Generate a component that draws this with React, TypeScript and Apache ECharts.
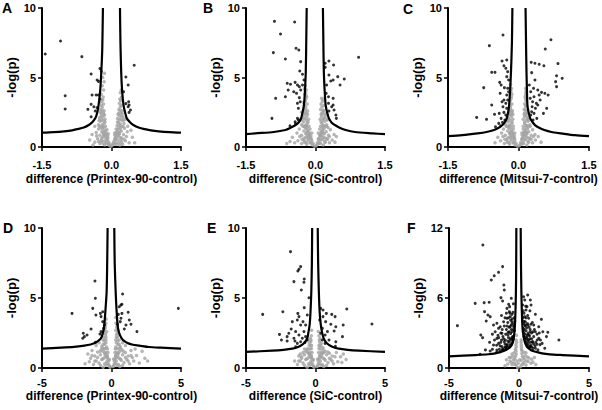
import React, { useEffect, useRef } from "react";
import * as echarts from "echarts";

// ---------- DATA ----------
const xTitles = [
  "difference (Printex-90-control)",
  "difference (SiC-control)",
  "difference (Mitsui-7-control)",
  "difference (Printex-90-control)",
  "difference (SiC-control)",
  "difference (Mitsui-7-control)",
];
const yTitle = "-log(p)";
const letters = ["A", "B", "C", "D", "E", "F"];

// Panel A
const grayA = [[-0.02,0.05],[0.01,0.1],[-0.04,0.2],[0.03,0.25],[-0.06,0.35],[0.05,0.4],[-0.09,0.5],[0.08,0.55],[-0.12,0.3],[0.11,0.2],[-0.15,0.15],[0.16,0.3],[-0.2,0.45],[0.2,0.5],[-0.25,0.25],[0.24,0.2],[-0.3,0.6],[0.3,0.45],[-0.36,0.35],[-0.4,0.15],[0.38,0.3],[0.45,0.7],[-0.08,0.8],[0.07,0.85],[-0.11,1.0],[0.1,1.05],[-0.14,1.2],[0.13,1.25],[-0.17,0.9],[0.17,0.95],[-0.21,1.1],[0.21,1.15],[-0.25,0.85],[0.26,0.9],[-0.28,1.3],[0.28,1.35],[-0.33,1.05],[0.34,1.1],[-0.13,1.5],[0.12,1.55],[-0.16,1.7],[0.15,1.75],[-0.2,1.6],[0.19,1.65],[-0.24,1.85],[0.23,1.9],[-0.28,1.6],[0.27,1.7],[-0.14,2.0],[0.13,2.05],[-0.18,2.2],[0.17,2.25],[-0.22,2.4],[0.21,2.45],[-0.26,2.1],[0.25,2.15],[-0.16,2.6],[0.16,2.7],[-0.2,2.85],[0.19,2.9],[-0.24,2.7],[0.23,2.6],[-0.17,3.1],[0.17,3.15],[-0.21,3.3],[0.2,3.35],[-0.25,3.2],[0.22,3.6],[-0.18,3.6],[-0.22,3.8],[0.19,3.9],[-0.17,4.1],[-0.2,4.4],[-0.16,4.7],[-0.19,5.0],[-0.15,5.3],[0.21,4.1],[0.3,2.0],[0.35,1.5],[-0.36,1.5],[0.42,1.2],[-0.42,0.9],[0.5,0.3],[-0.47,0.5],
  [-0.1,0.6],[-0.13,0.7],[-0.16,0.8],[-0.19,0.7],[-0.22,0.6],[-0.12,0.9],[-0.15,1.1],[-0.18,1.0],[-0.2,1.3],[-0.23,1.4],[-0.26,1.5],[-0.17,1.4],[-0.14,1.8],[-0.18,1.9],[-0.21,2.0],[-0.23,2.2],[-0.17,2.4],[-0.2,2.6],[-0.22,3.0],[-0.19,3.4],[-0.24,2.5],[-0.27,1.9],[-0.15,2.3],[-0.19,1.5],[-0.08,0.65],[-0.06,0.15],[-0.09,0.25],[-0.14,0.45],[-0.18,0.25],[-0.23,0.4],[-0.28,0.4],[-0.32,0.8],[-0.07,0.95],[-0.1,1.25],
  [0.09,0.65],[0.12,0.75],[0.15,0.85],[0.18,0.7],[0.22,0.65],[0.11,0.9],[0.14,1.1],[0.17,1.05],[0.19,1.3],[0.22,1.45],[0.25,1.5],[0.16,1.4],[0.13,1.8],[0.17,1.95],[0.2,2.05],[0.22,2.25],[0.16,2.45],[0.19,2.65],[0.21,3.0],[0.18,3.45],[0.23,2.4],[0.26,1.95],[0.14,2.35],[0.18,1.55],[0.07,0.6],[0.06,0.2],[0.09,0.3],[0.13,0.5],[0.18,0.15],[0.22,0.35],[0.27,0.55],[0.32,0.75],[0.07,1.0],[0.1,1.3]];
const blackA = [[-1.43,6.69],[-1.1,7.63],[-0.64,6.5],[-0.25,5.64],[-0.22,5.44],[-0.44,5.25],[-0.31,4.82],[-0.28,4.72],[-1.0,3.69],[-0.42,3.74],[-0.33,3.74],[-0.28,3.74],[-0.25,3.45],[-0.44,3.07],[-0.38,2.9],[-1.0,2.73],[-0.51,2.71],[-0.31,2.83],[-0.44,2.18],[-0.35,2.59],[0.49,5.88],[0.31,5.04],[0.36,4.46],[0.26,3.98],[0.37,3.26],[0.38,3.02],[0.36,2.9],[0.41,2.66],[0.38,2.49],[0.31,3.12]];
const curveAL = [[-1.5,1.03],[-1.25,1.07],[-1.02,1.13],[-0.85,1.2],[-0.71,1.3],[-0.6,1.4],[-0.49,1.58],[-0.41,1.8],[-0.35,2.06],[-0.31,2.45],[-0.28,3.0],[-0.245,4.0],[-0.22,5.4],[-0.2,7.0],[-0.185,10]];
const curveAR = [[0.183,10],[0.193,7.5],[0.21,5.3],[0.23,4.0],[0.26,3.0],[0.3,2.4],[0.33,2.06],[0.4,1.78],[0.48,1.56],[0.6,1.38],[0.69,1.3],[0.85,1.2],[1.02,1.13],[1.25,1.07],[1.5,1.03]];

// Panel B
const grayB = [[-0.02,0.05],[0.02,0.1],[-0.05,0.25],[0.04,0.3],[-0.08,0.45],[0.07,0.5],[-0.12,0.3],[0.11,0.25],[-0.16,0.6],[0.15,0.55],[-0.2,0.35],[0.2,0.4],[-0.25,0.5],[0.25,0.6],[-0.3,0.25],[0.3,0.3],[-0.38,0.45],[0.36,0.5],[-0.45,0.3],[-0.55,0.4],[-0.62,0.25],[0.42,0.35],[-0.1,0.8],[0.09,0.85],[-0.13,1.0],[0.12,1.05],[-0.17,1.2],[0.15,1.2],[-0.21,0.95],[0.19,0.95],[-0.25,1.15],[0.23,1.1],[-0.3,0.85],[0.28,0.85],[-0.35,1.3],[0.32,1.25],[-0.14,1.5],[0.11,1.5],[-0.18,1.7],[0.14,1.7],[-0.22,1.55],[0.17,1.55],[-0.26,1.8],[0.2,1.85],[-0.3,1.6],[0.24,1.6],[-0.15,2.0],[0.1,2.0],[-0.19,2.2],[0.13,2.2],[-0.23,2.4],[0.16,2.4],[-0.27,2.1],[0.2,2.1],[-0.17,2.6],[0.11,2.7],[-0.21,2.85],[0.14,2.9],[-0.25,2.7],[0.17,2.6],[-0.18,3.1],[0.12,3.1],[-0.22,3.3],[0.15,3.3],[-0.26,3.2],[0.13,3.5],[-0.19,3.6],[-0.23,3.8],[-0.2,4.1],[-0.22,4.4],[0.27,1.4],[-0.4,1.0],[0.4,0.9],[-0.5,0.7],[0.45,0.75],[-0.33,2.0],[0.26,2.0],[-0.3,2.5],
  [-0.11,0.65],[-0.14,0.75],[-0.17,0.85],[-0.2,0.7],[-0.24,0.65],[-0.13,0.9],[-0.16,1.1],[-0.19,1.05],[-0.21,1.35],[-0.24,1.45],[-0.27,1.5],[-0.18,1.4],[-0.16,1.8],[-0.2,1.95],[-0.23,2.05],[-0.25,2.3],[-0.19,2.45],[-0.22,2.65],[-0.24,3.0],[-0.21,3.45],[-0.25,2.5],[-0.29,1.95],[-0.17,2.35],[-0.2,1.55],[-0.09,0.6],[-0.07,0.15],[-0.1,0.3],[-0.15,0.5],[-0.19,0.2],[-0.24,0.35],[-0.29,0.55],[-0.34,0.75],[-0.08,1.0],[-0.12,1.3],[-0.21,3.9],[-0.24,4.2],[-0.2,3.7],
  [0.08,0.65],[0.11,0.75],[0.14,0.85],[0.17,0.7],[0.21,0.65],[0.1,0.9],[0.13,1.1],[0.16,1.05],[0.18,1.3],[0.21,1.45],[0.24,1.5],[0.15,1.4],[0.12,1.8],[0.15,1.95],[0.18,2.05],[0.21,2.25],[0.14,2.45],[0.17,2.65],[0.19,3.0],[0.16,3.45],[0.22,2.4],[0.25,1.95],[0.12,2.35],[0.17,1.55],[0.06,0.6],[0.05,0.2],[0.08,0.3],[0.12,0.5],[0.17,0.15],[0.21,0.35],[0.26,0.55],[0.3,0.75],[0.06,1.0],[0.09,1.3]];
const blackB = [[-0.886,9.04],[-0.45,8.99],[-0.755,8.13],[-0.91,6.79],[-0.42,7.1],[-0.36,6.98],[-0.65,6.33],[-0.32,6.14],[-0.34,5.47],[-0.28,5.23],[-0.25,4.82],[-0.61,4.58],[-0.54,4.51],[-0.44,4.65],[-0.39,4.46],[-0.35,4.34],[-0.28,4.46],[-0.59,4.1],[-0.47,3.98],[-0.41,3.86],[-0.32,4.1],[-0.65,3.62],[-0.86,3.5],[-0.35,3.55],[-0.33,3.26],[-0.39,3.14],[-0.37,2.78],[-0.94,2.06],[-0.39,2.06],[-0.44,1.82],[-0.43,1.68],[-0.55,1.53],[-0.37,1.94],[0.93,6.45],[0.29,6.19],[0.21,6.02],[0.39,5.9],[0.21,5.73],[0.29,5.18],[0.48,5.06],[0.62,4.89],[0.33,4.75],[0.38,4.82],[0.53,4.46],[0.24,4.46],[0.28,3.62],[0.38,3.5],[0.28,3.14],[0.35,2.9],[0.38,3.02],[0.4,2.66],[0.29,2.59],[0.44,2.3],[0.45,2.06],[0.23,3.86]];
const curveBL = [[-1.5,0.92],[-1.3,0.98],[-0.9,1.08],[-0.65,1.22],[-0.54,1.38],[-0.43,1.58],[-0.36,1.78],[-0.31,2.06],[-0.28,2.5],[-0.25,3.0],[-0.23,3.9],[-0.21,5.4],[-0.2,7.5],[-0.19,10]];
const curveBR = [[0.16,10],[0.17,7.5],[0.18,5.4],[0.2,3.9],[0.22,3.0],[0.25,2.5],[0.29,2.06],[0.35,1.75],[0.42,1.58],[0.52,1.38],[0.65,1.22],[0.85,1.08],[1.23,0.98],[1.5,0.92]];

// Panel C
const grayC = [[-0.02,0.05],[0.02,0.1],[-0.05,0.25],[0.04,0.3],[-0.08,0.45],[0.07,0.5],[-0.12,0.3],[0.11,0.25],[-0.16,0.6],[0.15,0.55],[-0.2,0.35],[0.2,0.4],[-0.25,0.5],[0.25,0.6],[-0.3,0.25],[0.3,0.3],[-0.38,0.45],[0.36,0.5],[-0.5,0.3],[0.48,0.35],[-0.09,0.8],[0.08,0.85],[-0.12,1.0],[0.11,1.05],[-0.15,1.2],[0.14,1.2],[-0.19,0.95],[0.18,0.95],[-0.23,1.15],[0.22,1.1],[-0.28,0.85],[0.27,0.85],[-0.32,1.3],[0.3,1.25],[-0.11,1.5],[0.1,1.5],[-0.14,1.7],[0.13,1.7],[-0.18,1.55],[0.16,1.55],[-0.22,1.8],[0.2,1.85],[-0.27,1.6],[0.24,1.6],[-0.12,2.0],[0.1,2.0],[-0.15,2.2],[0.13,2.2],[-0.19,2.4],[0.16,2.4],[-0.23,2.1],[0.2,2.1],[-0.13,2.6],[0.12,2.7],[-0.17,2.85],[0.15,2.9],[-0.2,2.7],[0.18,2.6],[-0.14,3.1],[0.13,3.1],[-0.18,3.3],[0.16,3.3],[-0.15,3.6],[0.14,3.6],[-0.17,3.9],[0.16,3.9],[-0.15,4.2],[-0.17,4.5],[0.15,4.2],[-0.36,1.0],[0.35,0.9],[-0.44,0.7],[0.42,0.75],
  [-0.1,0.65],[-0.13,0.75],[-0.16,0.85],[-0.19,0.7],[-0.23,0.65],[-0.12,0.9],[-0.15,1.1],[-0.18,1.05],[-0.2,1.35],[-0.23,1.45],[-0.26,1.5],[-0.17,1.4],[-0.14,1.8],[-0.18,1.95],[-0.21,2.05],[-0.17,2.3],[-0.14,2.45],[-0.16,2.65],[-0.18,3.0],[-0.16,3.45],[-0.19,2.5],[-0.24,1.95],[-0.12,2.35],[-0.19,1.55],[-0.08,0.6],[-0.07,0.15],[-0.1,0.3],[-0.15,0.5],[-0.19,0.2],[-0.24,0.35],[-0.29,0.55],[-0.33,0.75],[-0.08,1.0],[-0.11,1.3],[-0.16,4.0],[-0.14,3.8],
  [0.09,0.65],[0.12,0.75],[0.15,0.85],[0.18,0.7],[0.22,0.65],[0.11,0.9],[0.14,1.1],[0.17,1.05],[0.19,1.3],[0.22,1.45],[0.25,1.5],[0.16,1.4],[0.13,1.8],[0.17,1.95],[0.19,2.05],[0.16,2.25],[0.13,2.45],[0.15,2.65],[0.17,3.0],[0.15,3.45],[0.17,2.4],[0.22,1.95],[0.12,2.35],[0.18,1.55],[0.07,0.6],[0.06,0.2],[0.09,0.3],[0.13,0.5],[0.18,0.15],[0.22,0.35],[0.27,0.55],[0.32,0.75],[0.07,1.0],[0.1,1.3],[0.15,3.75],[0.16,4.0]];
const blackC = [[-0.33,8.06],[-0.62,7.29],[-0.35,6.19],[-0.25,6.26],[-0.31,5.85],[-0.27,5.66],[-0.57,5.37],[-0.5,5.37],[-0.23,5.42],[-0.25,5.06],[-0.21,4.82],[-0.4,4.65],[-0.37,4.46],[-0.74,4.27],[-0.3,4.27],[-0.23,4.22],[-0.39,3.86],[-0.25,3.74],[-0.31,3.38],[-0.35,3.26],[-0.27,3.14],[-0.57,3.02],[-0.33,2.9],[-0.25,2.78],[-0.41,2.42],[-0.31,2.49],[-0.51,2.35],[-0.89,2.13],[-0.68,1.99],[-0.37,2.06],[-0.29,1.94],[-0.42,1.7],[-0.34,1.77],[-0.49,1.46],[-0.38,1.53],[-0.27,2.3],[-0.23,3.38],[-0.21,3.98],[0.69,7.72],[0.57,7.05],[0.27,6.09],[0.35,6.02],[0.44,5.95],[0.54,5.85],[0.84,6.0],[0.28,5.35],[0.81,5.13],[0.93,4.94],[0.79,4.7],[0.81,4.34],[0.35,4.82],[0.23,4.46],[0.32,4.22],[0.41,4.1],[0.49,3.93],[0.56,3.86],[0.63,3.74],[0.44,3.74],[0.33,3.62],[0.25,3.5],[0.3,3.26],[0.38,3.14],[0.29,2.9],[0.36,2.78],[0.41,3.02],[0.6,2.78],[0.28,2.54],[0.33,2.42],[0.53,2.42],[0.39,2.06],[0.26,2.3],[0.31,1.94],[0.26,3.98],[0.46,3.38]];
const curveCL = [[-1.5,0.78],[-1.2,0.85],[-0.87,0.98],[-0.68,1.08],[-0.52,1.22],[-0.42,1.38],[-0.34,1.58],[-0.29,1.78],[-0.25,2.06],[-0.22,2.5],[-0.2,3.0],[-0.18,4.0],[-0.16,5.4],[-0.14,7.5],[-0.13,10]];
const curveCR = [[0.15,10],[0.16,7.5],[0.17,5.4],[0.18,4.0],[0.19,3.0],[0.215,2.5],[0.25,2.06],[0.3,1.78],[0.35,1.58],[0.44,1.38],[0.55,1.22],[0.7,1.08],[0.91,0.98],[1.2,0.85],[1.5,0.78]];

// Panel D
const grayD = [[-0.1,0.05],[0.1,0.1],[-0.2,0.25],[0.2,0.3],[-0.35,0.45],[0.35,0.5],[-0.5,0.3],[0.5,0.25],[-0.7,0.6],[0.7,0.55],[-0.9,0.35],[0.9,0.4],[-1.1,0.5],[1.1,0.6],[-1.3,0.25],[1.3,0.3],[-1.6,0.45],[1.6,0.5],[-1.9,0.3],[2.0,0.35],[2.4,0.7],[2.6,0.5],[-0.3,0.8],[0.3,0.85],[-0.45,1.0],[0.45,1.05],[-0.6,1.2],[0.6,1.2],[-0.8,0.95],[0.8,0.95],[-1.0,1.15],[1.0,1.1],[-1.2,0.85],[1.2,0.85],[-1.4,1.25],[1.4,1.25],[-0.35,1.5],[0.3,1.5],[-0.5,1.7],[0.45,1.7],[-0.7,1.55],[0.6,1.55],[-0.9,1.8],[0.8,1.8],[-1.1,1.6],[1.0,1.6],[-0.4,2.0],[0.3,2.0],[-0.55,2.2],[0.42,2.2],[-0.7,2.4],[0.55,2.4],[-0.35,2.6],[0.3,2.7],[-0.45,2.85],[0.38,2.9],[-0.4,3.2],[0.32,3.2],[-0.38,3.5],[0.3,3.6],[1.8,0.9],[-1.7,1.0],[2.2,1.2],[1.7,1.35],[-0.6,0.05],[0.6,0.1],[-1.5,0.7],[1.5,0.75],[-0.15,0.6],[0.15,0.65],
  [-0.25,0.65],[-0.35,0.75],[-0.45,0.85],[-0.55,0.7],[-0.65,0.65],[-0.3,0.9],[-0.4,1.1],[-0.5,1.05],[-0.55,1.35],[-0.65,1.45],[-0.75,1.3],[-0.45,1.4],[-0.4,1.8],[-0.5,1.95],[-0.6,2.0],[-0.48,2.5],[-0.42,2.4],[-0.52,2.7],[-0.45,3.0],[-0.4,2.2],[-0.6,1.7],[-0.8,1.2],[-0.2,0.5],[-0.15,0.15],[-0.3,0.3],[-0.4,0.2],[-0.8,0.2],[-1.0,0.75],[-1.2,0.5],[-1.4,0.9],[-0.25,1.1],[-0.3,1.35],
  [0.25,0.65],[0.35,0.75],[0.45,0.85],[0.55,0.7],[0.65,0.65],[0.3,0.9],[0.4,1.1],[0.5,1.05],[0.55,1.35],[0.65,1.45],[0.75,1.3],[0.4,1.4],[0.35,1.8],[0.45,1.95],[0.55,2.0],[0.42,2.5],[0.36,2.4],[0.45,2.7],[0.4,3.0],[0.35,2.2],[0.55,1.7],[0.85,1.2],[0.2,0.5],[0.15,0.15],[0.3,0.3],[0.4,0.2],[0.8,0.2],[1.0,0.75],[1.2,0.5],[1.4,0.9],[0.25,1.1],[0.28,1.35]];
const blackD = [[-1.19,6.21],[-1.16,4.98],[0.8,5.29],[-2.84,3.9],[-1.35,4.26],[0.68,4.5],[0.56,4.38],[0.75,4.55],[1.2,3.98],[-0.8,3.9],[-0.75,3.67],[-1.12,3.79],[0.75,3.9],[0.49,3.83],[0.68,3.55],[1.28,3.43],[1.4,3.12],[1.83,2.6],[0.92,2.79],[1.04,3.07],[-0.63,3.31],[-0.51,3.07],[-1.47,2.79],[-0.75,2.6],[-0.83,2.43],[-2.03,2.48],[-1.95,2.24],[-1.76,2.36],[-2.07,2.12],[-1.16,1.83],[4.81,4.26],[0.44,3.12],[0.63,3.31],[-0.63,4.02],[-0.56,2.83]];
const curveDL = [[-5,1.38],[-3.63,1.45],[-2.7,1.51],[-1.95,1.6],[-1.5,1.68],[-1.24,1.76],[-0.98,1.92],[-0.76,2.12],[-0.62,2.5],[-0.52,3.07],[-0.43,4.2],[-0.35,5.45],[-0.31,7.5],[-0.28,10]];
const curveDR = [[0.2,10],[0.23,7.5],[0.3,5.45],[0.36,4.2],[0.44,3.07],[0.55,2.5],[0.73,2.12],[0.95,1.9],[1.21,1.76],[1.55,1.66],[2.0,1.6],[2.7,1.5],[3.56,1.45],[5,1.38]];

// Panel E
const grayE = [[-0.1,0.05],[0.1,0.1],[-0.2,0.25],[0.2,0.3],[-0.35,0.45],[0.35,0.5],[-0.5,0.3],[0.5,0.25],[-0.7,0.6],[0.7,0.55],[-0.9,0.35],[0.9,0.4],[-1.1,0.5],[1.1,0.6],[-1.3,0.25],[1.3,0.3],[1.6,0.45],[-1.5,0.5],[1.9,0.4],[2.2,0.6],[-0.3,0.8],[0.3,0.85],[-0.45,1.0],[0.45,1.05],[-0.6,1.15],[0.6,1.1],[-0.8,0.95],[0.8,0.95],[-1.0,0.8],[1.0,1.05],[-1.2,0.85],[1.2,0.85],[1.5,1.1],[-0.3,1.4],[0.25,1.4],[-0.45,1.6],[0.4,1.55],[-0.6,1.35],[0.55,1.3],[-0.35,1.9],[0.3,1.85],[-0.3,2.3],[0.25,2.3],[-0.28,2.7],[0.2,2.6],[-0.6,0.05],[0.6,0.1],[-0.15,0.6],[0.15,0.65],[1.8,0.8],[2.0,1.0],[-0.8,1.35],
  [-0.25,0.65],[-0.35,0.75],[-0.45,0.85],[-0.55,0.7],[-0.65,0.65],[-0.3,0.9],[-0.4,1.1],[-0.5,1.05],[-0.55,1.35],[-0.7,1.2],[-0.4,1.35],[-0.35,1.65],[-0.45,1.8],[-0.32,2.0],[-0.38,2.1],[-0.2,0.5],[-0.15,0.15],[-0.3,0.3],[-0.4,0.2],[-0.8,0.2],[-1.0,0.7],[-1.2,0.5],[-0.25,1.1],[-0.28,1.6],[-0.9,1.1],[-1.1,1.0],
  [0.25,0.65],[0.35,0.75],[0.45,0.85],[0.55,0.7],[0.65,0.65],[0.3,0.9],[0.4,1.1],[0.5,1.05],[0.55,1.45],[0.7,1.2],[0.35,1.35],[0.3,1.65],[0.42,1.75],[0.28,2.0],[0.33,2.1],[0.2,0.5],[0.15,0.15],[0.3,0.3],[0.4,0.2],[0.8,0.2],[1.0,0.7],[1.2,0.5],[0.22,1.1],[0.25,1.6],[0.9,1.15],[1.4,0.8]];
const blackE = [[-1.8,8.31],[-1.07,7.24],[-1.19,7.05],[-1.27,6.93],[-0.81,6.36],[-1.55,6.17],[-0.83,6.12],[-1.02,5.57],[-0.47,5.02],[-0.81,4.31],[0.37,4.26],[0.54,4.14],[-2.35,4.02],[-3.8,3.83],[-1.27,3.9],[-1.19,3.67],[-1.31,3.43],[-1.67,3.31],[-0.9,3.31],[-0.71,3.07],[-1.07,3.07],[-0.59,3.79],[0.78,3.9],[1.17,3.83],[1.41,3.67],[2.25,4.21],[4.06,3.14],[1.99,3.07],[0.54,3.67],[0.3,3.43],[0.73,3.31],[1.1,3.12],[1.46,2.95],[1.34,2.64],[0.86,2.6],[0.49,2.83],[0.37,2.48],[0.69,2.36],[1.94,2.24],[-2.59,2.4],[-2.45,2.0],[-2.04,2.24],[-1.92,2.48],[-1.55,2.12],[-1.43,2.6],[-1.19,2.36],[-0.95,2.12],[-0.83,2.6],[-0.71,2.24],[-1.48,1.93],[-1.31,1.76],[-1.07,1.88],[-0.76,1.83],[-0.59,2.0],[-1.75,2.79],[-2.04,1.93],[0.49,2.0],[0.97,2.0],[1.46,1.88],[0.69,1.76],[1.43,1.55],[-1.43,1.52]];
const curveEL = [[-5,1.15],[-3.12,1.24],[-2.3,1.3],[-1.67,1.38],[-1.25,1.5],[-0.95,1.67],[-0.76,1.85],[-0.59,2.14],[-0.5,2.6],[-0.42,3.1],[-0.36,4.0],[-0.3,5.48],[-0.26,7.5],[-0.24,10]];
const curveER = [[0.16,10],[0.19,7.5],[0.24,5.48],[0.3,4.0],[0.38,3.1],[0.46,2.6],[0.58,2.14],[0.75,1.85],[0.94,1.67],[1.25,1.5],[1.67,1.38],[2.3,1.3],[3.12,1.24],[5,1.15]];

// Panel F
const grayF = [[-0.1,0.05],[0.1,0.1],[-0.2,0.25],[0.2,0.3],[-0.35,0.45],[0.35,0.5],[-0.5,0.3],[0.5,0.25],[-0.65,0.6],[0.65,0.55],[-0.8,0.35],[0.85,0.4],[1.0,0.5],[-0.3,0.8],[0.3,0.85],[-0.45,1.0],[0.45,1.05],[-0.6,0.9],[0.6,0.95],[-0.2,1.2],[0.2,1.25],[-0.25,1.6],[0.18,1.6],[-0.22,2.0],[0.16,2.0],[-0.2,2.4],[0.15,2.4],[-0.18,2.8],[1.2,0.3],[-0.05,0.4],[0.05,0.7],
  [-0.15,0.6],[0.15,0.65],[-0.3,0.3],[0.3,0.35],[-0.4,0.7],[0.4,0.75],[-0.55,0.5],[0.55,0.6],[-0.7,0.9],[0.7,0.85],[-0.25,1.0],[0.25,1.0],[-0.35,1.3],[0.35,1.35],[-0.5,1.2],[0.5,1.3],[-0.9,0.7],[0.9,0.75],[-1.0,0.2],[1.1,0.9],[-0.2,1.8],[0.17,1.8],[-0.18,2.2],[0.15,2.2],[-0.22,1.45],[0.2,1.5]];
const blackF = [[-2.58,10.54],[-1.17,8.69],[-1.46,8.2],[-1.77,7.91],[-1.98,7.54],[-1.08,7.11],[-1.05,6.69],[-3.13,5.54],[-2.49,5.6],[-2.13,5.63],[-1.29,6.03],[-1.17,5.74],[-0.74,5.46],[-0.67,5.26],[-0.86,5.11],[0.62,6.26],[0.41,5.83],[0.81,5.83],[0.86,5.4],[0.57,5.26],[-2.46,4.83],[-2.22,4.54],[-2.06,4.4],[1.17,4.6],[1.6,4.17],[-4.4,3.63],[-2.34,4.03],[-1.82,3.69],[-1.58,3.83],[-1.34,3.54],[-1.1,3.97],[-0.86,4.26],[-0.62,4.4],[-0.5,3.97],[0.45,3.97],[0.69,4.26],[1.05,3.69],[1.41,3.54],[1.7,3.11],[2.06,3.06],[2.85,2.4],[1.96,2.69],[1.41,2.54],[1.65,2.11],[1.84,1.69],[1.29,2.03],[1.05,2.69],[0.81,3.11],[0.57,2.83],[0.69,2.4],[0.81,1.83],[1.17,1.69],[-2.73,2.83],[-2.06,1.46],[-2.78,1.17],[-1.58,2.54],[-1.46,2.11],[-1.22,2.97],[-0.98,2.4],[-0.79,2.83],[-0.62,2.4],[-0.5,3.11],[-0.86,1.97],[-1.22,1.83],[-1.58,1.54],[-1.1,1.56],[-1.34,1.4],[-0.86,1.8],[-1.82,1.97],[-1.7,3.11],[-1.46,3.4],[-0.38,3.54],[-0.43,4.77],[-0.55,5.97],[-0.69,4.83],[0.98,1.5],[1.29,2.89],[1.53,2.4],[0.98,2.26],[0.64,3.69],[1.17,3.11],[0.36,4.69],[0.5,4.97],[0.26,5.4],[0.33,6.11],[0.45,3.69],
  [-0.4,2.5],[-0.55,2.0],[-0.7,1.8],[-0.9,1.65],[-1.0,1.8],[-1.2,1.55],[-1.35,1.9],[-0.5,2.15],[-0.7,2.2],[-0.85,2.0],[-1.05,2.25],[-1.25,2.4],[-0.45,2.7],[-0.6,2.95],[-0.75,2.6],[-0.95,2.9],[-1.15,2.7],[-1.3,3.0],[-0.55,3.3],[-0.7,3.5],[-0.9,3.3],[-1.05,3.6],[-0.45,3.8],[-0.6,4.1],[-0.8,3.9],[-1.0,4.3],[-0.35,4.3],[-0.5,4.6],[-0.4,5.5],[-0.3,4.0],[-0.38,2.7],[-0.33,3.2],[-1.6,1.35],[-1.9,1.6],[-2.1,2.2],[-1.5,2.8],
  [-0.45,2.35],[-0.6,2.5],[-0.8,2.3],[-1.0,2.05],[-1.1,2.5],[-0.65,1.95],[-0.95,1.75],[-1.15,1.65],[-1.4,1.6],[-1.3,2.2],[-0.5,2.6],[-0.7,3.1],[-0.85,3.6],[-1.2,3.3],[-0.4,3.3],[-0.55,3.7],[-0.75,4.3],[-0.9,4.7],[-0.65,4.7],[-1.25,4.5],[-1.45,2.6],[-1.6,1.95],[-1.75,2.4],[-0.35,3.6],[-0.48,4.2],[-2.4,1.55],[-2.6,2.6],[-1.9,2.9],[-0.62,3.55],[-0.78,3.05],
  [0.75,1.75],[0.9,1.8],[0.35,2.7],[0.5,2.2],[0.65,2.1],[0.8,2.2],[0.3,3.1],[0.42,2.6],[0.58,2.5],[0.75,2.75],[0.9,2.5],[0.35,3.0],[0.5,3.2],[0.65,3.0],[0.8,3.3],[0.3,3.4],[0.45,3.6],[0.6,3.8],[0.35,4.0],[0.5,4.3],[0.3,4.9],[1.05,2.05],[1.3,2.4],[1.1,3.3],[0.95,3.9],
  [0.55,2.0],[0.7,1.9],[0.85,1.95],[1.0,1.7],[1.15,1.9],[0.45,2.45],[0.62,2.3],[0.78,2.5],[0.95,2.2],[1.2,2.2],[0.4,2.9],[0.55,2.65],[0.7,2.85],[0.9,3.0],[1.0,3.1],[0.38,3.3],[0.55,3.45],[0.72,3.5],[0.85,3.75],[0.4,4.4],[0.62,4.5],[0.78,4.9],[1.35,1.55],[1.5,2.0],[1.45,3.0],[0.33,3.8],[0.48,5.3],[0.28,4.3]];
const curveFL = [[-5,1.0],[-3.13,1.11],[-2.2,1.18],[-1.7,1.26],[-1.1,1.45],[-0.74,1.69],[-0.56,1.9],[-0.43,2.26],[-0.34,2.9],[-0.29,3.69],[-0.25,5],[-0.22,6.54],[-0.2,9],[-0.19,12]];
const curveFR = [[0.12,12],[0.14,9],[0.17,6.54],[0.2,5],[0.24,3.69],[0.3,2.9],[0.41,2.26],[0.53,1.9],[0.69,1.69],[1.0,1.45],[1.65,1.26],[2.2,1.17],[3.09,1.11],[5,1.0]];

// axis ranges [xMin, xMax, xInterval, yMax, yInterval]
const axisRanges = [
  [-1.5, 1.5, 1.5, 10, 5],
  [-1.5, 1.5, 1.5, 10, 5],
  [-1.5, 1.5, 1.5, 10, 5],
  [-5, 5, 5, 10, 5],
  [-5, 5, 5, 10, 5],
  [-5, 5, 5, 12, 6],
];
const grays = [grayA, grayB, grayC, grayD, grayE, grayF];
const blacks = [blackA, blackB, blackC, blackD, blackE, blackF];
const curvesL = [curveAL, curveBL, curveCL, curveDL, curveEL, curveFL];
const curvesR = [curveAR, curveBR, curveCR, curveDR, curveER, curveFR];

// ---------- LAYOUT ----------
const grids = [
  { left: 42, top: 8, width: 139, height: 139 },
  { left: 246, top: 8, width: 139, height: 139 },
  { left: 448, top: 8, width: 141, height: 139 },
  { left: 42, top: 228, width: 139, height: 140 },
  { left: 246, top: 228, width: 139, height: 140 },
  { left: 449, top: 228, width: 140, height: 140 },
];
const letterPos = [
  [2, 8], [203, 8], [403, 8.5], [3, 228], [207, 228], [407, 227.5],
];

const FONT = "'Liberation Sans', Arial, Helvetica, sans-serif";

export default function App() {
  const ref = useRef<HTMLDivElement>(null);
  useEffect(() => {
    if (!ref.current) return;
    const chart = echarts.init(ref.current, undefined, { renderer: "svg" });
    const xAxis: any[] = [];
    const yAxis: any[] = [];
    const series: any[] = [];
    const graphic: any[] = [];
    for (let i = 0; i < 6; i++) {
      const [xMin, xMax, xInt, yMax, yInt] = axisRanges[i];
      const top = i < 3;
      xAxis.push({
        type: "value",
        gridIndex: i,
        min: xMin,
        max: xMax,
        interval: xInt,
        name: xTitles[i],
        nameLocation: "middle",
        nameGap: top ? 26 : 22,
        nameTextStyle: { fontFamily: FONT, fontWeight: "bold", fontSize: 12, color: "#000" },
        axisLine: { onZero: false, lineStyle: { color: "#000", width: 2 } },
        axisTick: { show: true, length: 4, lineStyle: { color: "#000", width: 1.5 } },
        axisLabel: {
          margin: top ? 12 : 9,
          fontFamily: FONT,
          fontWeight: "bold",
          fontSize: 11,
          color: "#000",
          formatter: (v: number) => (top ? v.toFixed(1) : String(v)),
        },
        splitLine: { show: false },
      });
      yAxis.push({
        type: "value",
        gridIndex: i,
        min: 0,
        max: yMax,
        interval: yInt,
        name: yTitle,
        nameLocation: "middle",
        nameRotate: 90,
        nameGap: 24,
        nameTextStyle: { fontFamily: FONT, fontWeight: "bold", fontSize: 13, color: "#000" },
        axisLine: { show: true, onZero: false, lineStyle: { color: "#000", width: 2 } },
        axisTick: { show: true, length: 4, lineStyle: { color: "#000", width: 1.5 } },
        axisLabel: { margin: 6, fontFamily: FONT, fontWeight: "bold", fontSize: 11, color: "#000" },
        splitLine: { show: false },
      });
      series.push({
        type: "scatter",
        xAxisIndex: i,
        yAxisIndex: i,
        data: grays[i],
        symbolSize: 3.5,
        itemStyle: { color: "#a3a3a3" },
        z: 2,
      });
      for (const c of [curvesL[i], curvesR[i]]) {
        series.push({
          type: "line",
          xAxisIndex: i,
          yAxisIndex: i,
          data: c,
          showSymbol: false,
          smooth: 0.25,
          clip: false,
          lineStyle: { color: "#000", width: 2.2, cap: "butt", join: "round" },
          z: 3,
        });
      }
      series.push({
        type: "scatter",
        xAxisIndex: i,
        yAxisIndex: i,
        data: blacks[i],
        symbolSize: 3,
        itemStyle: { color: "#000" },
        z: 4,
      });
      graphic.push({
        type: "text",
        x: letterPos[i][0],
        y: letterPos[i][1],
        style: {
          text: letters[i],
          fontFamily: FONT,
          fontWeight: "bold",
          fontSize: 14,
          fill: "#000",
          textVerticalAlign: "middle",
          verticalAlign: "middle",
        },
      });
    }
    chart.setOption({
      animation: false,
      backgroundColor: "#fff",
      grid: grids.map((g) => ({ ...g, containLabel: false })),
      xAxis,
      yAxis,
      series,
      graphic,
    });
    return () => chart.dispose();
  }, []);
  return (
    <div
      ref={ref}
      style={{ position: "fixed", left: 0, top: 0, width: 602, height: 410, background: "#fff" }}
    />
  );
}
